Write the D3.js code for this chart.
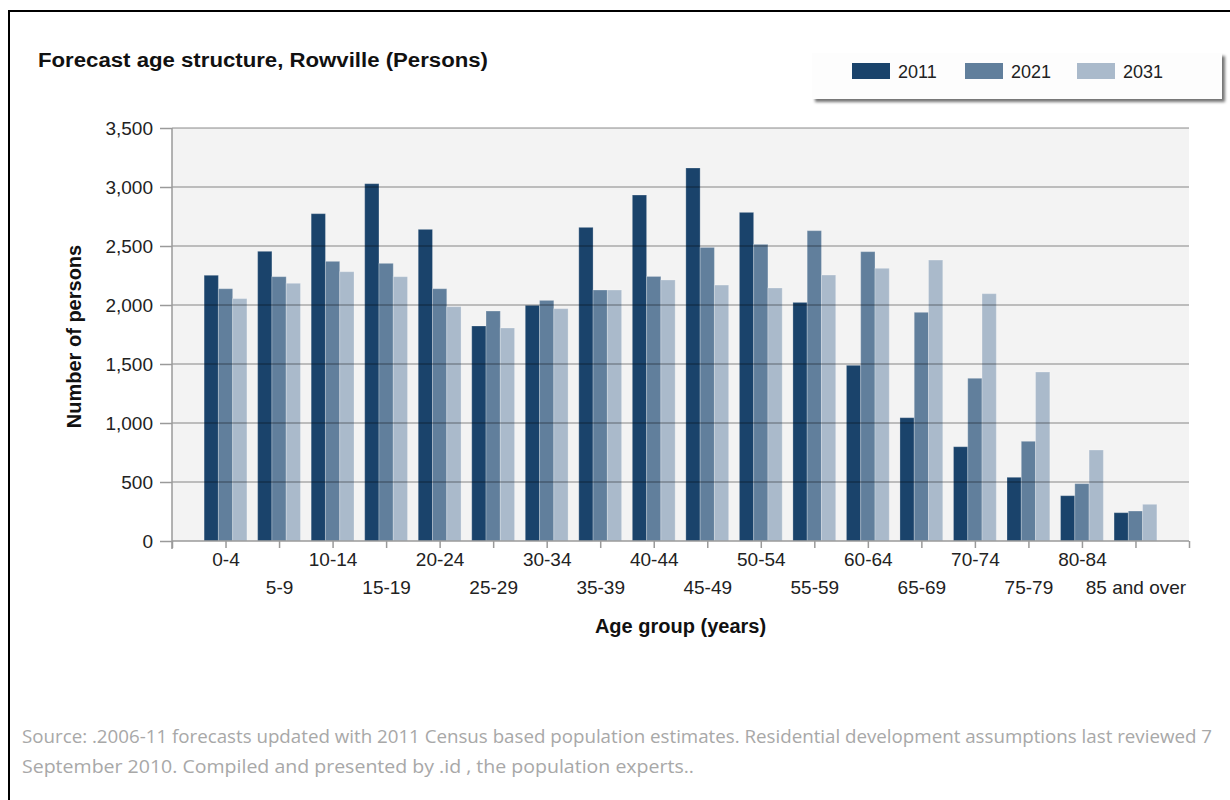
<!DOCTYPE html>
<html>
<head>
<meta charset="utf-8">
<script src="https://cdn.jsdelivr.net/npm/d3@7/dist/d3.min.js"></script>
<style>
  html, body { margin: 0; padding: 0; background: #ffffff; }
  svg { display: block; }
  .axis text { font-family: "Liberation Sans", Arial, sans-serif; }
</style>
</head>
<body>
<svg id="chart" width="1230" height="800"></svg>
<script>
// Age groups and forecast persons per year
const ageGroups = ["0-4","5-9","10-14","15-19","20-24","25-29","30-34","35-39","40-44",
  "45-49","50-54","55-59","60-64","65-69","70-74","75-79","80-84","85 and over"];
const years = ["2011", "2021", "2031"];
const persons2011 = [2252, 2455, 2774, 3028, 2641, 1822, 1997, 2658, 2932, 3161, 2785, 2022, 1489, 1045, 799, 540, 384, 240];
const persons2021 = [2138, 2240, 2370, 2353, 2138, 1949, 2039, 2127, 2242, 2488, 2514, 2630, 2452, 1938, 1379, 845, 486, 254];
const persons2031 = [2054, 2184, 2282, 2240, 1986, 1805, 1969, 2127, 2212, 2169, 2144, 2254, 2311, 2381, 2096, 1432, 771, 311];
const yTicks = [0, 500, 1000, 1500, 2000, 2500, 3000, 3500];
const yearColors = ["#1a436b", "#617f9c", "#aabacb"];

const seriesValues = [persons2011, persons2021, persons2031];

const svg = d3.select("#chart");
const font = '"Liberation Sans", Arial, sans-serif';

// Outer frame: left and top rules
svg.append("line").attr("x1", 9).attr("x2", 9).attr("y1", 11).attr("y2", 800)
  .attr("stroke", "#000").attr("stroke-width", 2);
svg.append("line").attr("x1", 8).attr("x2", 1230).attr("y1", 11).attr("y2", 11)
  .attr("stroke", "#000").attr("stroke-width", 2);

// Title
svg.append("text").attr("x", 38).attr("y", 67)
  .attr("font-family", font).attr("font-weight", "bold").attr("font-size", 20)
  .attr("fill", "#111")
  .attr("textLength", 450).attr("lengthAdjust", "spacingAndGlyphs")
  .text("Forecast age structure, Rowville (Persons)");

// Plot geometry
const plot = { left: 172, right: 1189, top: 128, bottom: 541 };

const x = d3.scaleLinear().domain([0, ageGroups.length + 1]).range([plot.left, plot.right]);
const y = d3.scaleLinear().domain([0, 3500]).range([plot.bottom, plot.top]);
const slot = x(1) - x(0);
const groupWidth = slot * 0.8;
const xInner = d3.scaleBand().domain(years).range([-groupWidth / 2, groupWidth / 2]).padding(0);

// Plot background
svg.append("rect").attr("x", plot.left).attr("y", plot.top)
  .attr("width", plot.right - plot.left).attr("height", plot.bottom - plot.top)
  .attr("fill", "#f3f3f3");

// Bars
const groups = svg.append("g").selectAll("g")
  .data(ageGroups)
  .join("g")
  .attr("transform", (d, i) => `translate(${x(i + 1)},0)`);

groups.selectAll("rect")
  .data((d, i) => years.map((yr, k) => ({ yr, k, v: seriesValues[k][i] })))
  .join("rect")
  .attr("x", d => xInner(d.yr))
  .attr("width", xInner.bandwidth())
  .attr("y", d => y(d.v))
  .attr("height", d => y(0) - y(d.v))
  .attr("fill", d => yearColors[d.k])
  .attr("stroke", "rgba(255,255,255,0.25)")
  .attr("stroke-width", 1);

// Horizontal gridlines over the bars
svg.append("g").selectAll("line")
  .data(yTicks.filter(t => t > 0))
  .join("line")
  .attr("x1", plot.left).attr("x2", plot.right)
  .attr("y1", d => y(d)).attr("y2", d => y(d))
  .attr("stroke", "#000").attr("stroke-opacity", 0.3).attr("stroke-width", 1.5);

// Y axis
const yAxis = svg.append("g").attr("class", "axis")
  .attr("transform", `translate(${plot.left},0)`)
  .call(d3.axisLeft(y).tickValues(yTicks).tickSize(12).tickPadding(7)
    .tickFormat(d3.format(",")));
yAxis.select(".domain").attr("stroke", "#9a9a9a").attr("stroke-width", 1.5)
  .attr("d", `M0,${plot.top}V${plot.bottom + 8}`);
yAxis.selectAll(".tick line").attr("stroke", "#9a9a9a").attr("stroke-width", 1.5);
yAxis.selectAll(".tick text").attr("font-size", 19).attr("fill", "#222");

// X axis with alternating two-row labels
const xAxis = svg.append("g").attr("class", "axis")
  .attr("transform", `translate(0,${plot.bottom})`)
  .call(d3.axisBottom(x).tickValues(d3.range(0, ageGroups.length + 2)).tickSize(7).tickPadding(6)
    .tickFormat(i => ageGroups[i - 1] || ""));
xAxis.select(".domain").attr("stroke", "#9a9a9a").attr("stroke-width", 1.5)
  .attr("d", `M${plot.left},0H${plot.right}`);
xAxis.selectAll(".tick line").attr("stroke", "#9a9a9a").attr("stroke-width", 1.5);
xAxis.selectAll(".tick text").attr("font-size", 19).attr("fill", "#222")
  .attr("dy", i => (i % 2 === 0 ? "2.1em" : "0.65em"));

// Axis titles
svg.append("text").attr("x", x((ageGroups.length + 1) / 2)).attr("y", 633)
  .attr("text-anchor", "middle")
  .attr("font-family", font).attr("font-weight", "bold").attr("font-size", 20)
  .attr("fill", "#111").text("Age group (years)");

svg.append("text").attr("transform", `translate(81,${(plot.top + plot.bottom) / 2 + 2}) rotate(-90)`)
  .attr("text-anchor", "middle")
  .attr("font-family", font).attr("font-weight", "bold").attr("font-size", 20)
  .attr("fill", "#111").text("Number of persons");

// Legend box with drop shadow
const defs = svg.append("defs");
const shadow = defs.append("filter").attr("id", "legendShadow")
  .attr("x", "-5%").attr("y", "-20%").attr("width", "115%").attr("height", "160%");
shadow.append("feDropShadow").attr("dx", 3).attr("dy", 3).attr("stdDeviation", 1.8)
  .attr("flood-color", "#000").attr("flood-opacity", 0.55);

svg.append("rect").attr("x", 812).attr("y", 53).attr("width", 410).attr("height", 46)
  .attr("fill", "#fdfdfd").attr("filter", "url(#legendShadow)");

const legendX = d3.scaleOrdinal().domain(years).range([852, 965, 1077]);
const legend = svg.append("g").selectAll("g").data(years).join("g")
  .attr("transform", d => `translate(${legendX(d)},63)`);
legend.append("rect").attr("width", 38).attr("height", 16)
  .attr("fill", (d, i) => yearColors[i]);
legend.append("text").attr("x", 46).attr("y", 15)
  .attr("font-family", font).attr("font-size", 18).attr("fill", "#222")
  .text(d => d);

// Source note
const sourceLines = [
  "Source: .2006-11 forecasts updated with 2011 Census based population estimates. Residential development assumptions last reviewed 7",
  "September 2010. Compiled and presented by .id , the population experts.."
];
svg.append("g").selectAll("text").data(sourceLines).join("text")
  .attr("x", 22).attr("y", (d, i) => 743 + i * 30)
  .attr("font-family", '"Open Sans", sans-serif').attr("font-size", 18)
  .attr("fill", "#a8a8a8")
  .attr("textLength", (d, i) => (i === 0 ? 1190 : 672))
  .attr("lengthAdjust", "spacingAndGlyphs")
  .text(d => d);
</script>
</body>
</html>
